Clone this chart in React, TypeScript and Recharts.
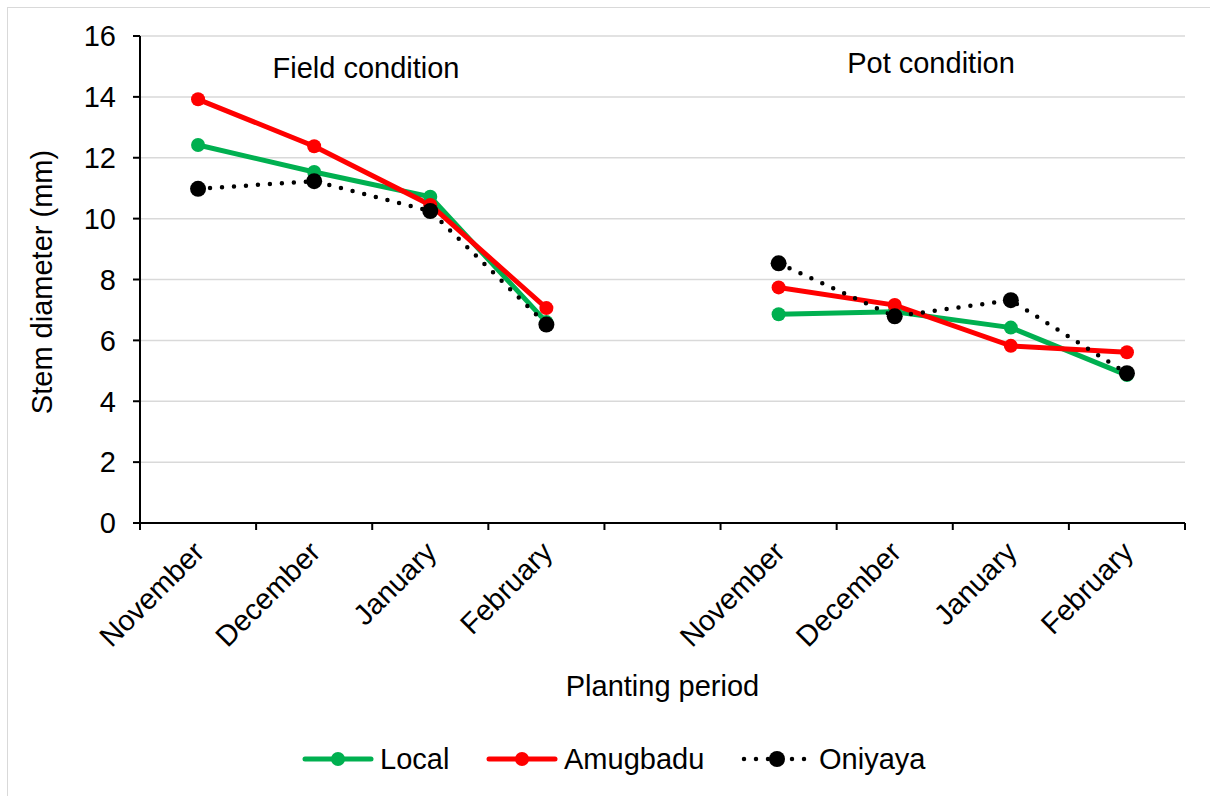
import { LineChart, Line, XAxis, YAxis, CartesianGrid, Customized } from 'recharts';

// Planting periods: four months under field condition, an empty slot, then the same four in pots
const periods = ['November', 'December', 'January', 'February', '', 'November', 'December', 'January', 'February'];
const slots = [0.5, 1.5, 2.5, 3.5, 4.5, 5.5, 6.5, 7.5, 8.5];

// Stem diameter (mm)
const local = [12.42, 11.53, 10.72, 6.6, null, 6.86, 6.94, 6.42, 4.86];
const amugbadu = [13.92, 12.38, 10.45, 7.06, null, 7.74, 7.16, 5.82, 5.61];
const oniyaya = [10.98, 11.23, 10.25, 6.52, null, 8.53, 6.79, 7.32, 4.92];

const yTicks = [0, 2, 4, 6, 8, 10, 12, 14, 16];
const xTicks = [0, 0.5, 1, 1.5, 2, 2.5, 3, 3.5, 4, 4.5, 5, 5.5, 6, 6.5, 7, 7.5, 8, 8.5, 9];

const data = slots.map((slot, i) => ({
  slot,
  local: local[i],
  amugbadu: amugbadu[i],
  oniyaya: oniyaya[i],
}));

const FONT = '"Liberation Sans", Arial, sans-serif';
const FS = 29;
const W = 1210;
const H = 796;
const PLOT_LEFT = 140;
const PLOT_RIGHT = 1185;
const PLOT_TOP = 36;
const PLOT_BOTTOM = 523;

const series = [
  { key: 'local', name: 'Local', color: '#00b050', width: 5, dash: undefined, r: 7 },
  { key: 'amugbadu', name: 'Amugbadu', color: '#ff0000', width: 5, dash: undefined, r: 7 },
  { key: 'oniyaya', name: 'Oniyaya', color: '#000000', width: 4.5, dash: '0 12', r: 8 },
];

function PeriodTick(props: any) {
  const { x, payload } = props;
  const v = payload.value;
  if (Number.isInteger(v)) {
    return <line x1={x} x2={x} y1={PLOT_BOTTOM} y2={PLOT_BOTTOM + 7} stroke="#000" strokeWidth={2} />;
  }
  const label = periods[Math.floor(v)];
  const ax = x + 8;
  const ay = PLOT_BOTTOM + 31;
  return (
    <text
      x={ax}
      y={ay}
      textAnchor="end"
      transform={`rotate(-45, ${ax}, ${ay})`}
      fontSize={FS}
      fontFamily={FONT}
      fill="#000"
    >
      {label}
    </text>
  );
}

function Annotations() {
  const t = { fontSize: FS, fontFamily: FONT, fill: '#000', textAnchor: 'middle' as const };
  return (
    <g>
      <text x={366} y={78} {...t}>Field condition</text>
      <text x={931} y={73} {...t}>Pot condition</text>
      <text x={(PLOT_LEFT + PLOT_RIGHT) / 2} y={696} {...t}>Planting period</text>
      <text x={52} y={282} transform="rotate(-90, 52, 282)" {...t}>Stem diameter (mm)</text>
    </g>
  );
}

function LegendRow() {
  const items = [
    { ...series[0], x: 303 },
    { ...series[1], x: 487 },
    { ...series[2], x: 742 },
  ];
  return (
    <svg width={W} height={60} style={{ position: 'absolute', left: 0, top: 730 }}>
      {items.map((s) => (
        <g key={s.key}>
          <line
            x1={s.x + 2}
            x2={s.x + 68}
            y1={29}
            y2={29}
            stroke={s.color}
            strokeWidth={s.width}
            strokeLinecap="round"
            strokeDasharray={s.dash}
          />
          <circle cx={s.x + 35} cy={29} r={s.r} fill={s.color} />
          <text x={s.x + 77} y={39} fontSize={FS} fontFamily={FONT} fill="#000">
            {s.name}
          </text>
        </g>
      ))}
    </svg>
  );
}

export default function App() {
  return (
    <div style={{ position: 'absolute', left: 0, top: 0, width: W, height: H, background: '#fff' }}>
      <div
        style={{
          position: 'absolute',
          left: 7,
          top: 7,
          right: -10,
          bottom: -10,
          borderTop: '1.5px solid #d9d9d9',
          borderLeft: '1.5px solid #d9d9d9',
        }}
      />
      <LineChart
        width={W}
        height={H}
        data={data}
        margin={{ top: PLOT_TOP, right: W - PLOT_RIGHT, left: 0, bottom: 0 }}
        style={{ position: 'absolute', left: 0, top: 0 }}
      >
        <CartesianGrid vertical={false} stroke="#d9d9d9" strokeWidth={1.5} />
        <XAxis
          dataKey="slot"
          type="number"
          domain={[0, 9]}
          ticks={xTicks}
          interval={0}
          height={H - PLOT_BOTTOM}
          axisLine={{ stroke: '#000', strokeWidth: 2 }}
          tickLine={false}
          tick={<PeriodTick />}
        />
        <YAxis
          domain={[0, 16]}
          ticks={yTicks}
          interval={0}
          width={PLOT_LEFT}
          axisLine={{ stroke: '#000', strokeWidth: 2 }}
          tickLine={{ stroke: '#000', strokeWidth: 2 }}
          tickSize={7}
          tickMargin={17}
          tick={{ fontSize: FS, fontFamily: FONT, fill: '#000' }}
        />
        {series.map((s) => (
          <Line
            key={s.key}
            type="linear"
            dataKey={s.key}
            name={s.name}
            stroke={s.color}
            strokeWidth={s.width}
            strokeDasharray={s.dash}
            strokeLinecap="round"
            dot={{ r: s.r, fill: s.color, stroke: s.color, strokeWidth: 0 }}
            activeDot={false}
            isAnimationActive={false}
          />
        ))}
        <Customized component={Annotations} />
      </LineChart>
      <LegendRow />
    </div>
  );
}
